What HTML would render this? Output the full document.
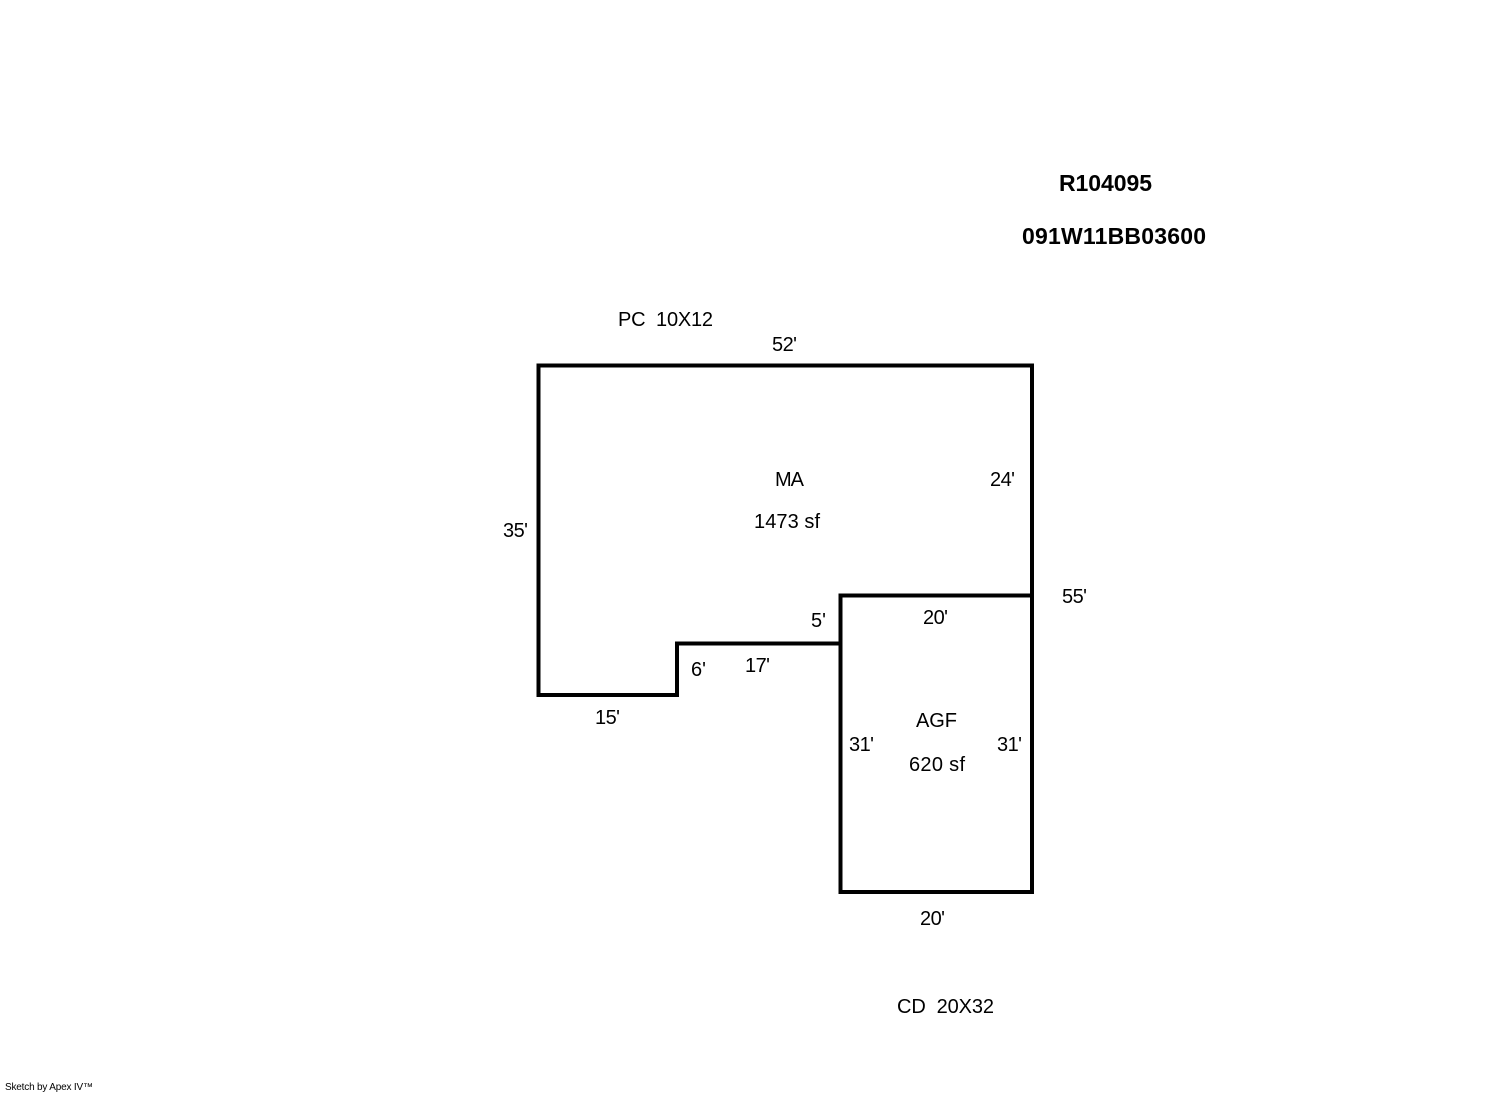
<!DOCTYPE html>
<html><head><meta charset="utf-8"><style>
html,body{margin:0;padding:0;background:#fff;}
svg{display:block;}
text{font-family:"Liberation Sans",Arial,sans-serif;fill:#000;}
</style></head><body>
<svg width="1492" height="1094" viewBox="0 0 1492 1094" xmlns="http://www.w3.org/2000/svg">
<g fill="none" stroke="#000" stroke-width="4" stroke-linecap="square">
<polyline points="840.5,643.5 677,643.5 677,695 538.5,695 538.5,365.5 1032,365.5 1032,892 840.5,892 840.5,595.5 1032,595.5"/>
</g>
<g font-size="20">
<text x="618" y="326" textLength="95">PC&#160; 10X12</text>
<text x="772" y="351" textLength="25">52'</text>
<text x="775" y="486" textLength="29">MA</text>
<text x="990" y="486" textLength="25">24'</text>
<text x="754" y="528" textLength="66">1473 sf</text>
<text x="503" y="537" textLength="25">35'</text>
<text x="1062" y="603" textLength="25">55'</text>
<text x="923" y="624" textLength="25">20'</text>
<text x="811" y="627" textLength="15">5'</text>
<text x="691" y="676" textLength="15">6'</text>
<text x="745" y="672" textLength="25">17'</text>
<text x="595" y="724" textLength="25">15'</text>
<text x="916" y="727" textLength="41">AGF</text>
<text x="849" y="751" textLength="25">31'</text>
<text x="997" y="751" textLength="25">31'</text>
<text x="909" y="771" textLength="56">620 sf</text>
<text x="920" y="925" textLength="25">20'</text>
<text x="897" y="1013" textLength="97">CD&#160; 20X32</text>
</g>
<g font-size="23" font-weight="bold">
<text x="1059" y="191" textLength="93">R104095</text>
<text x="1022" y="244" textLength="184">091W11BB03600</text>
</g>
<text x="5" y="1090" font-size="10" textLength="88">Sketch by Apex IV™</text>
</svg>
</body></html>
